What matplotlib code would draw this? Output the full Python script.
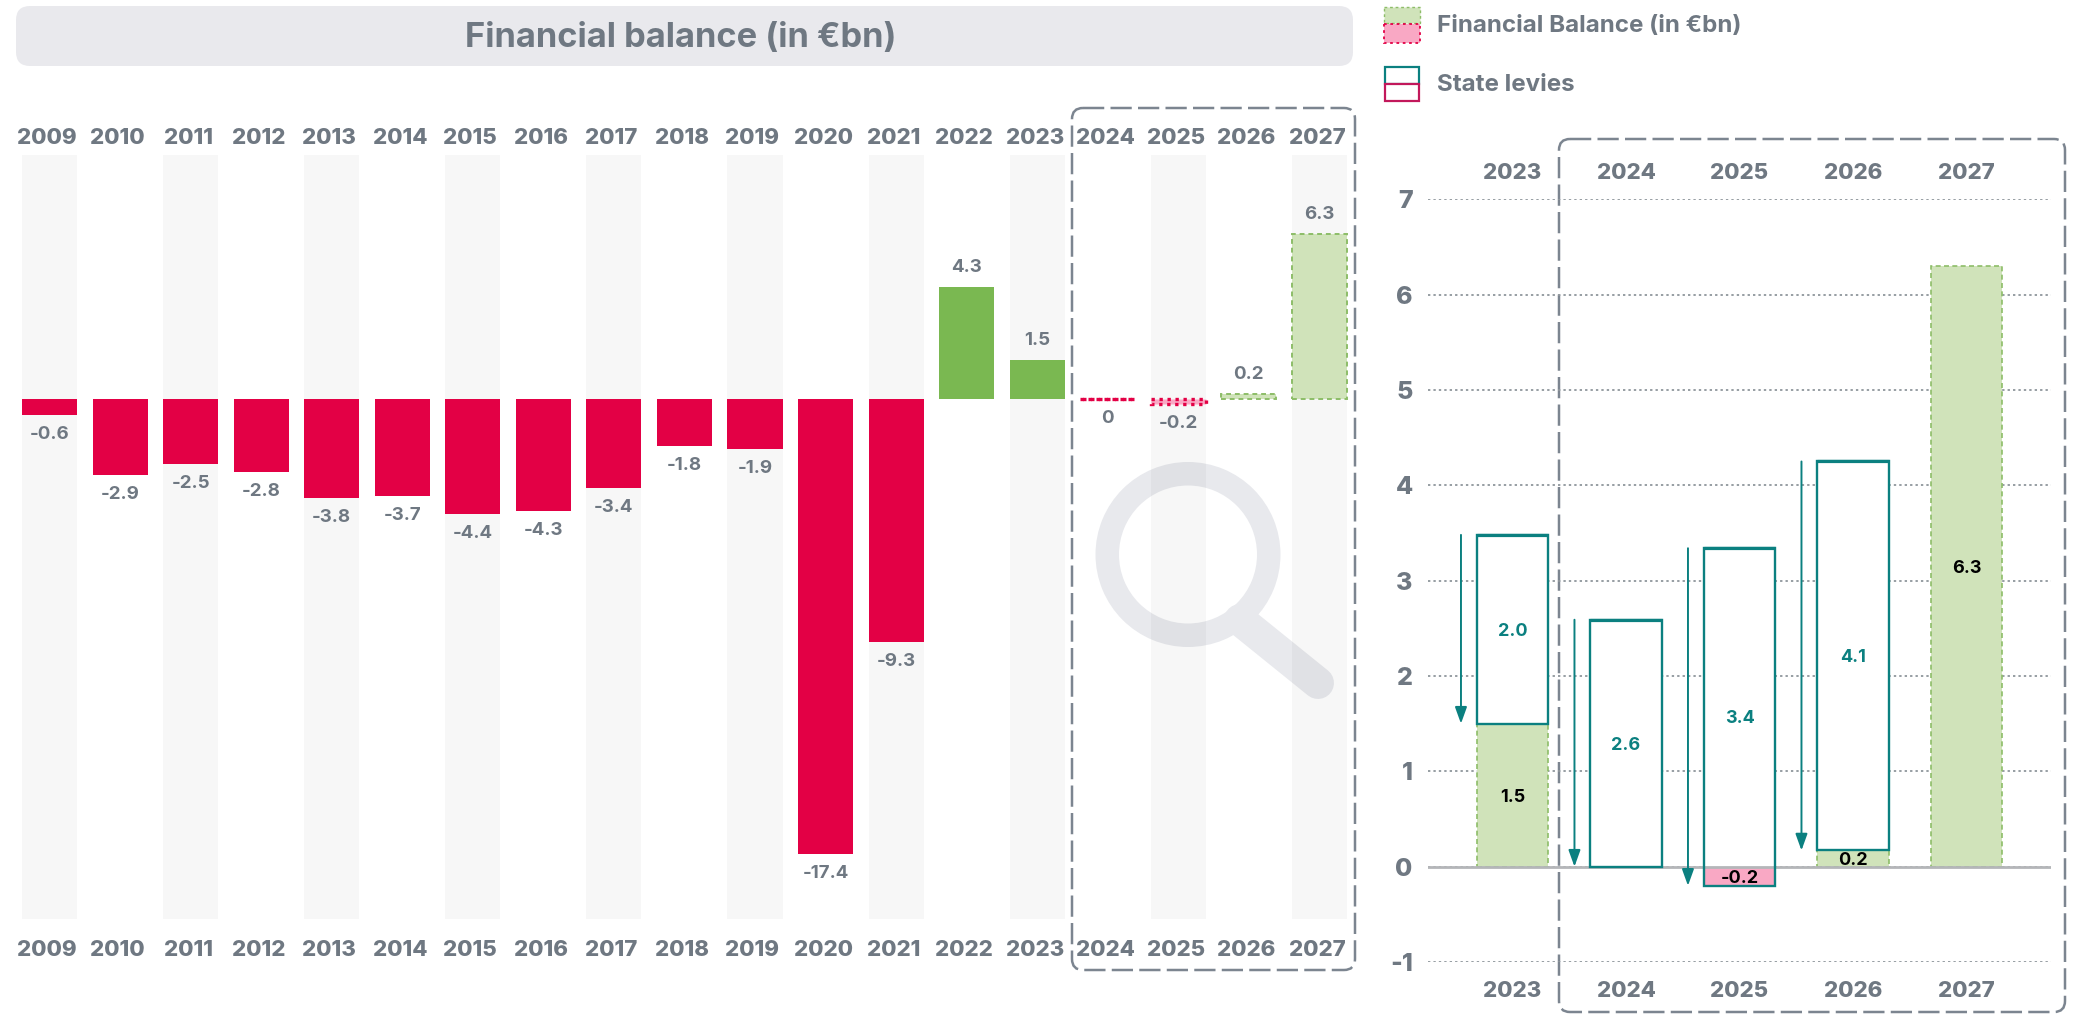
import matplotlib
matplotlib.use('Agg')
import matplotlib.pyplot as plt
from matplotlib.patches import FancyBboxPatch, Rectangle, Wedge
from matplotlib.transforms import ScaledTranslation

plt.rcParams['font.family'] = ['Inter', 'DejaVu Sans']

# data
years = list(range(2009, 2028))
balance = [-0.6, -2.9, -2.5, -2.8, -3.8, -3.7, -4.4, -4.3, -3.4, -1.8, -1.9, -17.4, -9.3, 4.3, 1.5, 0, -0.2, 0.2, 6.3]
forecast_from = 2024

zoom_years = [2023, 2024, 2025, 2026, 2027]
zoom_balance = [1.5, 0, -0.2, 0.17, 6.3]
zoom_balance_labels = ['1.5', '', '-0.2', '0.2', '6.3']
levy_years = [2023, 2024, 2025, 2026]
levy_bottom = [1.5, 0, -0.2, 0.17]
levy_top = [3.48, 2.59, 3.34, 4.25]
levy_labels = ['2.0', '2.6', '3.4', '4.1']
y_ticks = [-1, 0, 1, 2, 3, 4, 5, 6, 7]

# colours
GREY = '#6f7882'
BOX = '#7c8590'
RED = '#e30045'
GREEN = '#7ab851'
LGREEN = '#d0e3ba'
DGREEN = '#8dbd68'
PINK = '#f9a8c4'
TEAL = '#0b8080'

W, H = 2073, 1014
fig = plt.figure(figsize=(W / 100, H / 100), dpi=100, facecolor='white')


def px_axes(x0, y0, x1, y1):
    return fig.add_axes([x0 / W, 1 - y1 / H, (x1 - x0) / W, (y1 - y0) / H])


def year_axis(axis, ticks, pad, shift=0):
    # bold year labels, nudged a little left of the bars like the original
    axis.set_ticks(ticks)
    axis.set_ticklabels([str(y) for y in ticks])
    axis.set_tick_params(length=0, pad=pad, labelsize=16, labelcolor=GREY)
    for t in axis.get_ticklabels():
        t.set_fontweight(800)
        if shift:
            t.set_transform(t.get_transform() + ScaledTranslation(shift / 100, 0, fig.dpi_scale_trans))


# background layer in pixel coordinates
bg = fig.add_axes([0, 0, 1, 1], zorder=0)
bg.set_xlim(0, W)
bg.set_ylim(H, 0)
bg.axis('off')

bg.add_patch(FancyBboxPatch((16, 6), 1337, 60, boxstyle='round,pad=0,rounding_size=14',
                            fc='#e9e9ed', ec='none'))
bg.text(681, 38, 'Financial balance (in €bn)', ha='center', va='center',
        fontsize=24.8, fontweight='bold', color=GREY)

# magnifier
bg.plot([1240, 1318], [620, 683], color='#e8e9ed', lw=23, solid_capstyle='round')
bg.add_patch(Wedge((1188, 554.5), 92.5, 0, 360, width=23.5, fc='#e8e9ed', ec='none'))

# dashed zoom frames
dash = (0, (8.5, 2.5))
for x0, y0, x1, y1 in [(1072, 108, 1355, 970), (1559, 139, 2065, 1012)]:
    bg.add_patch(FancyBboxPatch((x0, y0), x1 - x0, y1 - y0,
                                boxstyle='round,pad=0,rounding_size=11', fc='none',
                                ec=BOX, lw=1.8, ls=dash, capstyle='butt'))

# legend
bg.add_patch(Rectangle((1384, 7), 36, 16, fc=LGREEN, ec=DGREEN, lw=1, ls=(0, (2, 2))))
bg.add_patch(Rectangle((1384, 24), 36, 19, fc=PINK, ec=RED, lw=1.3, ls=(0, (1.5, 2))))
bg.add_patch(Rectangle((1385, 67), 34, 17, fc='white', ec=TEAL, lw=1.6))
bg.add_patch(Rectangle((1385, 84), 34, 17, fc='white', ec='#c2185b', lw=1.6))
bg.text(1437, 26, 'Financial Balance (in €bn)', va='center', fontsize=17.4, fontweight='bold', color=GREY)
bg.text(1437, 85, 'State levies', va='center', fontsize=17.4, fontweight='bold', color=GREY)

# left chart
px_x0, px_x1 = 15, 1360
px_top, px_bot = 155, 919
step, x2009, y_zero, unit = 70.55, 49.5, 399, 26.15
ax = px_axes(px_x0, px_top, px_x1, px_bot)
ax.set_zorder(1)
ax.patch.set_alpha(0)
ax.set_xlim(2009 + (px_x0 - x2009) / step, 2009 + (px_x1 - x2009) / step)
ax.set_ylim((y_zero - px_bot) / unit, (y_zero - px_top) / unit)
ymin, ymax = ax.get_ylim()
width = 0.78

ax.bar(years[::2], ymax - ymin, width, bottom=ymin, color='black', alpha=0.032, lw=0, zorder=1)

for yr, v in zip(years, balance):
    if yr < forecast_from:
        ax.bar(yr, v, width, color=RED if v < 0 else GREEN, lw=0, zorder=2)
    elif v > 0:
        ax.bar(yr, v, width, color=LGREEN, edgecolor=DGREEN, lw=1.4, ls=(0, (2.5, 2)), zorder=2)
    else:
        ax.bar(yr, v, width, color=PINK, edgecolor=RED, lw=2.4, ls=(0, (1, 1.4)), zorder=2)
    ax.annotate(str(v), (yr, v), xytext=(0, 14 if v > 0 else -14), textcoords='offset points',
                ha='center', va='center', fontsize=13.5, fontweight='bold', color=GREY, zorder=3)

year_axis(ax.xaxis, years, 15, shift=-2.5)
top_ax = ax.secondary_xaxis('top')
year_axis(top_ax.xaxis, years, 5, shift=-2.5)
ax.set_yticks([])
for a in (ax, top_ax):
    for s in a.spines.values():
        s.set_visible(False)

# right chart
rstep, x2023 = 113.5, 1512.5
rx0, rx1 = 1428, 2051
rax = px_axes(rx0, 199.3, rx1, 962)
rax.set_zorder(1)
rax.patch.set_alpha(0)
rax.set_xlim(2023 + (rx0 - x2023) / rstep, 2023 + (rx1 - x2023) / rstep)
rax.set_ylim(-1, 7)
rwidth = 0.63

rax.set_yticks(y_ticks)
rax.set_yticklabels([str(v) for v in y_ticks])
rax.grid(axis='y', color='#8f969c', lw=1.3, ls=(0, (1.3, 1.7)), zorder=0)
rax.set_axisbelow(True)
rax.tick_params(axis='y', length=0, pad=11, labelsize=18, labelcolor=GREY)
for t in rax.get_yticklabels():
    t.set_fontweight(800)
year_axis(rax.xaxis, zoom_years, 13.5)
rtop_ax = rax.secondary_xaxis('top')
year_axis(rtop_ax.xaxis, zoom_years, 11.5)
for a in (rax, rtop_ax):
    for s in a.spines.values():
        s.set_visible(False)

heights = [t - b for t, b in zip(levy_top, levy_bottom)]
rax.bar(levy_years, heights, rwidth, bottom=levy_bottom, color='white', lw=0, zorder=2)
for yr, v, lab in zip(zoom_years, zoom_balance, zoom_balance_labels):
    if v > 0:
        rax.bar(yr, v, rwidth, color=LGREEN, edgecolor=DGREEN, lw=1.2, ls=(0, (3, 2)), zorder=3)
    elif v < 0:
        rax.bar(yr, v, rwidth, color=PINK, lw=0, zorder=3)
    if lab:
        rax.text(yr, v / 2, lab, ha='center', va='center_baseline', fontsize=13, fontweight='bold',
                 color='black', zorder=6)
rax.axhline(0, color='#b4b6b9', lw=2, zorder=4)
rax.bar(levy_years, heights, rwidth, bottom=levy_bottom, facecolor='none', edgecolor=TEAL, lw=1.7, zorder=5)
rax.hlines(levy_top, [y - rwidth / 2 for y in levy_years], [y + rwidth / 2 for y in levy_years],
           color=TEAL, lw=2.3, zorder=5)
for yr, b, t, lab in zip(levy_years, levy_bottom, levy_top, levy_labels):
    rax.text(yr, (b + t) / 2, lab, ha='center', va='center_baseline', fontsize=13, fontweight='bold',
             color=TEAL, zorder=6)
    rax.annotate('', xy=(yr - 0.454, b), xytext=(yr - 0.454, t), zorder=6,
                 arrowprops=dict(arrowstyle='-|>,head_length=0.5,head_width=0.18', color=TEAL,
                                 lw=1.4, mutation_scale=20, shrinkA=0, shrinkB=0))

fig.savefig('out.png', dpi=100)
